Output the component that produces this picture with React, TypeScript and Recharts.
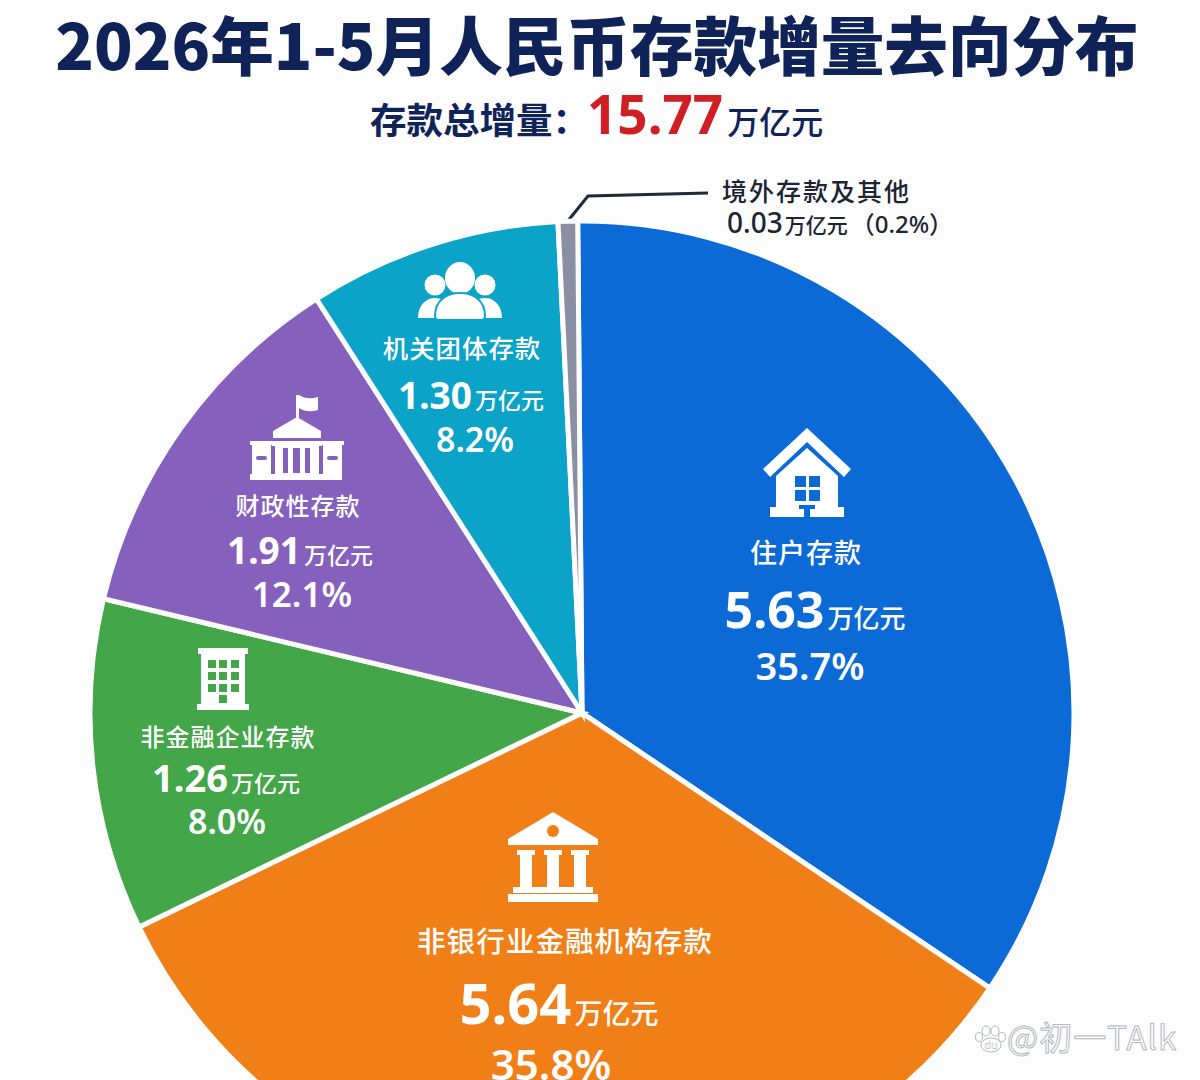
import { PieChart, Pie, Cell } from "recharts";

const categories = ["住户存款", "非银行业金融机构存款", "非金融企业存款", "财政性存款", "机关团体存款", "境外存款及其他"];
const amounts = ["5.63", "5.64", "1.26", "1.91", "1.30", "0.03"];
const percents = ["35.7%", "35.8%", "8.0%", "12.1%", "8.2%", "0.2%"];
// slice sizes as they are drawn in the picture (its wedges do not follow the printed percents)
const drawnShares = [34.6, 33.4, 10.9, 12.2, 8.3, 0.64];
const colors = ["#0b6ad6", "#f07f17", "#43a648", "#8560bd", "#0ca3c9", "#8a8fa3"];

const data = categories.map((name, i) => ({ name, share: drawnShares[i], amount: amounts[i], percent: percents[i] }));

const CX = 582;
const CY = 713;
const NAVY = "#0f2358";
const FONT = "'Noto Sans CJK SC', sans-serif";

const labelLayout = [
    { icon: [807, 475, 1.0], nameX: 806, nameY: 563, nameSize: 27, valueX: 815, valueY: 628, valueSize: 50, unitSize: 26, pctX: 810, pctY: 680, pctSize: 38 },
    { icon: [553, 857, 1.0], nameX: 565, nameY: 952, nameSize: 28.6, valueX: 559, valueY: 1024, valueSize: 56, unitSize: 28, pctX: 551, pctY: 1080, pctSize: 42 },
    { icon: [223, 680, 1.0], nameX: 228, nameY: 746, nameSize: 24, valueX: 226, valueY: 792, valueSize: 38, unitSize: 23, pctX: 227, pctY: 834, pctSize: 34 },
    { icon: [296, 440, 1.0], nameX: 298, nameY: 515, nameSize: 24, valueX: 300, valueY: 564, valueSize: 37, unitSize: 23, pctX: 302, pctY: 607, pctSize: 35 },
    { icon: [461, 291, 1.0], nameX: 462, nameY: 358, nameSize: 25.4, valueX: 471, valueY: 409, valueSize: 37, unitSize: 23, pctX: 475, pctY: 452, pctSize: 34 },
];

function HouseIcon() {
    return (
        <g fill="#fff">
            <path d="M0 -47 L44 -6 L37 2 L0 -33 L-37 2 L-44 -6 Z" />
            <path d="M0 -27 L31 1 L31 32 L37 32 L37 42 L3 42 L3 34 L8 34 L8 30 L-8 30 L-8 34 L-3 34 L-3 42 L-37 42 L-37 32 L-31 32 L-31 1 Z" />
            <g fill="#0b6ad6">
                <rect x="-12" y="1" width="11" height="11" />
                <rect x="2" y="1" width="11" height="11" />
                <rect x="-12" y="15" width="11" height="11" />
                <rect x="2" y="15" width="11" height="11" />
            </g>
        </g>
    );
}

function BankIcon() {
    return (
        <g fill="#fff">
            <path d="M0 -45 L45 -18 L45 -12 L-45 -12 L-45 -18 Z" />
            <circle cx="0" cy="-26" r="6" fill="#f07f17" />
            <rect x="-36" y="-7" width="18" height="5" />
            <rect x="-33" y="-2" width="12" height="32" />
            <rect x="-9" y="-7" width="18" height="5" />
            <rect x="-6" y="-2" width="12" height="32" />
            <rect x="18" y="-7" width="18" height="5" />
            <rect x="21" y="-2" width="12" height="32" />
            <rect x="-40" y="30" width="80" height="6" />
            <rect x="-45" y="37" width="90" height="8" />
        </g>
    );
}

function OfficeIcon() {
    const cells = [[-15, -20], [-4, -20], [8, -20], [-15, -8], [-4, -8], [8, -8], [-15, 4], [-4, 4], [8, 4], [-4, 15]];
    return (
        <g fill="#fff">
            <rect x="-25" y="-32" width="50" height="6" />
            <rect x="-22" y="-28" width="44" height="55" />
            <rect x="-26" y="24" width="52" height="6" />
            {cells.map(([x, y], i) => (
                <rect key={i} x={x} y={y} width="8" height="8" fill="#43a648" />
            ))}
        </g>
    );
}

function GovIcon() {
    return (
        <g fill="#fff">
            <rect x="0" y="-45" width="3" height="24" />
            <path d="M3 -45 C9 -41 15 -41 22 -43 L22 -30 C15 -28 9 -28 3 -32 Z" />
            <path d="M1 -23 L25 -9 L25 -2 L-23 -2 L-23 -9 Z" />
            <rect x="-24" y="1" width="50" height="5" />
            <rect x="-21" y="6" width="44" height="28" />
            <rect x="-13" y="8" width="5" height="25" fill="#8560bd" />
            <rect x="-3" y="8" width="7" height="25" fill="#8560bd" />
            <rect x="9" y="8" width="5" height="25" fill="#8560bd" />
            <rect x="-44" y="4" width="19" height="31" />
            <rect x="27" y="4" width="19" height="31" />
            <rect x="-46" y="1" width="23" height="4" />
            <rect x="25" y="1" width="23" height="4" />
            <rect x="-46" y="34" width="92" height="6" />
            <rect x="-40" y="16" width="11" height="4" rx="2" fill="#8560bd" />
            <rect x="31" y="16" width="11" height="4" rx="2" fill="#8560bd" />
        </g>
    );
}

function PeopleIcon() {
    return (
        <g fill="#fff">
            <circle cx="-26" cy="-6" r="10.5" />
            <path d="M-43 27 C-43 14 -35 7 -26 7 C-22 7 -19 8 -16 10 C-22 15 -25 21 -25 27 Z" />
            <circle cx="24" cy="-6" r="10.5" />
            <path d="M41 27 C41 14 33 7 24 7 C20 7 17 8 14 10 C20 15 23 21 23 27 Z" />
            <ellipse cx="-1" cy="-13" rx="15" ry="16" />
            <path d="M-26 25 C-26 9 -14 2 -1 2 C12 2 24 9 24 25 Q24 29 20 29 L-22 29 Q-26 29 -26 25 Z" stroke="#0ca3c9" strokeWidth={2} />
        </g>
    );
}

const icons = [HouseIcon, BankIcon, OfficeIcon, GovIcon, PeopleIcon];

function renderSliceLabel({ index }: { index: number }) {
    const spot = labelLayout[index];
    if (!spot) return <g key={index} />;
    const row = data[index];
    const Icon = icons[index];
    const [ix, iy, scale] = spot.icon;
    return (
        <g key={index} fontFamily={FONT} fill="#fff" textAnchor="middle" style={{ pointerEvents: "none" }}>
            <g transform={`translate(${ix} ${iy}) scale(${scale})`}>
                <Icon />
            </g>
            <text x={spot.nameX} y={spot.nameY} fontSize={spot.nameSize} fontWeight={500} letterSpacing={1} stroke="none">
                {row.name}
            </text>
            <text x={spot.valueX} y={spot.valueY} stroke="none">
                <tspan fontSize={spot.valueSize} fontWeight={700} fontFamily="'Noto Sans', sans-serif">{row.amount}</tspan>
                <tspan fontSize={spot.unitSize} fontWeight={500} dx={3}>万亿元</tspan>
            </text>
            <text x={spot.pctX} y={spot.pctY} fontSize={spot.pctSize} fontWeight={600} fontFamily="'Noto Sans', sans-serif" stroke="none">
                {row.percent}
            </text>
        </g>
    );
}

export default function App() {
    return (
        <div style={{ position: "absolute", left: 0, top: 0, width: 1200, height: 1080, overflow: "hidden", background: "#fdfdfe" }}>
            <PieChart width={1200} height={1080} margin={{ top: 0, right: 0, bottom: 0, left: 0 }}>
                <text x={597} y={70} textAnchor="middle" fontFamily={FONT} fontWeight={900} fontSize={63.6} fill={NAVY}>
                    {"2026年1-5月人民币存款增量去向分布"}
                </text>
                <text x={370} y={134} fontFamily={FONT} fill={NAVY}>
                    <tspan fontSize={36.5} fontWeight={700}>存款总增量：</tspan>
                    <tspan fontSize={53} fontWeight={700} fill="#cf1f25" fontFamily="'Noto Sans', sans-serif" dx={-2}>15.77</tspan>
                    <tspan fontSize={32} fontWeight={500} dx={4}>万亿元</tspan>
                </text>
                <Pie
                    data={data}
                    dataKey="share"
                    nameKey="name"
                    cx={CX}
                    cy={CY}
                    innerRadius={0}
                    outerRadius={492}
                    startAngle={90.5}
                    endAngle={-269.5}
                    stroke="#fdfdfe"
                    strokeWidth={5}
                    labelLine={false}
                    label={renderSliceLabel}
                    isAnimationActive={false}
                >
                    {data.map((d, i) => (
                        <Cell key={d.name} fill={colors[i]} />
                    ))}
                </Pie>
                <polyline points="567,222 588,196 708,193" fill="none" stroke="#1f2937" strokeWidth={3} />
                <text x={722} y={201} fontFamily={FONT} fontSize={25} fontWeight={500} fill="#1d2433" letterSpacing={2}>
                    {categories[5]}
                </text>
                <text x={727} y={233} fontFamily={FONT} fill="#1d2433">
                    <tspan fontSize={28} fontWeight={500} fontFamily="'Noto Sans', sans-serif">{amounts[5]}</tspan>
                    <tspan fontSize={21} fontWeight={500} dx={2}>万亿元</tspan>
                    <tspan fontSize={24} fontWeight={500} dx={3} fontFamily="'Noto Sans', 'Noto Sans CJK SC', sans-serif">{`（${percents[5]}）`}</tspan>
                </text>
                <g transform="translate(990 1040)" fill="#fff" stroke="#b4b8bd" strokeWidth={1}>
                    <ellipse cx="-4" cy="-9" rx="4" ry="5" />
                    <ellipse cx="5" cy="-9" rx="4" ry="5" />
                    <ellipse cx="-11" cy="-3" rx="3.5" ry="4.5" />
                    <ellipse cx="12" cy="-3" rx="3.5" ry="4.5" />
                    <ellipse cx="1" cy="5" rx="10" ry="7" />
                    <text x="1" y="9" textAnchor="middle" fontSize={11} fontFamily="'Noto Sans', sans-serif" stroke="#b4b8bd" strokeWidth={0.4} fill="#fff">du</text>
                </g>
                <text x={1007} y={1050} fontFamily={FONT} fontSize={33} letterSpacing={1} fill="#fff" stroke="#b4b8bd" strokeWidth={1}>
                    @初一TAlk
                </text>
            </PieChart>
        </div>
    );
}
